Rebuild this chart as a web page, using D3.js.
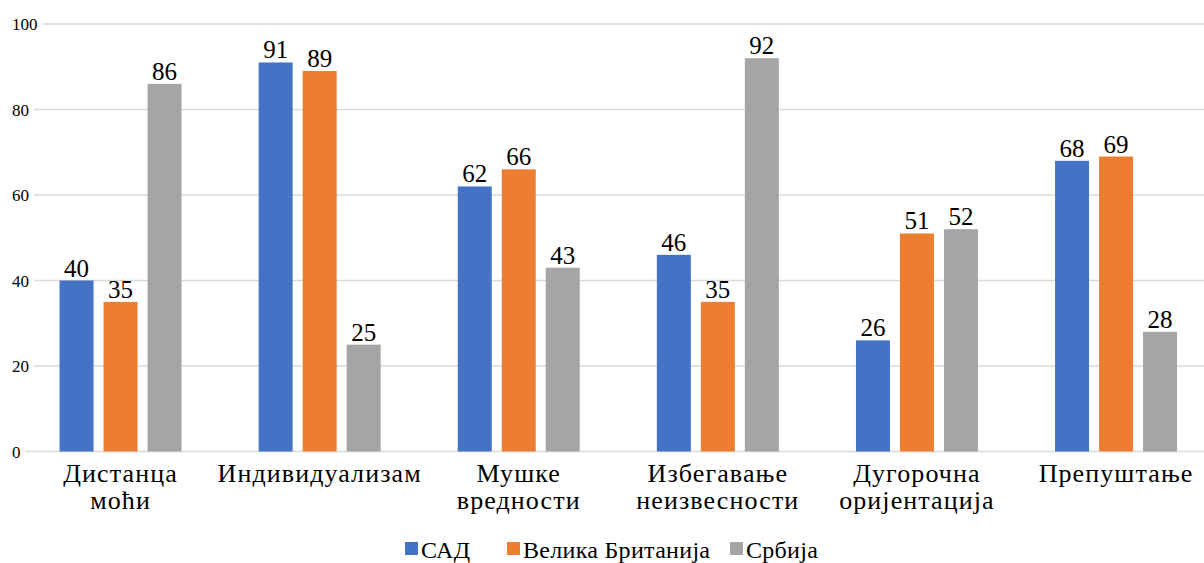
<!DOCTYPE html>
<html><head><meta charset="utf-8">
<script src="https://cdn.jsdelivr.net/npm/d3@7"></script>
<style>html,body{margin:0;padding:0;background:#fff;}svg{display:block;}
svg text{font-family:"Liberation Serif","Times New Roman",Tinos,"DejaVu Serif","Noto Serif",serif;}</style>
</head><body>
<svg id="c" width="1204" height="563"></svg>
<script>
const categories = [["Дистанца","моћи"],["Индивидуализам"],["Мушке","вредности"],["Избегавање","неизвесности"],["Дугорочна","оријентација"],["Препуштање"]];
const seriesNames = ["САД","Велика Британија","Србија"];
const sad = [40,91,62,46,26,68];
const britain = [35,89,66,35,51,69];
const serbia = [86,25,43,92,52,28];
const colors = ["#4472C4","#ED7D31","#A5A5A5"];
const yTicks = [0,20,40,60,80,100];

const series = [sad, britain, serbia];
const svg = d3.select("#c");

const x = d3.scaleBand().domain(d3.range(categories.length)).range([21, 1215.6]).paddingInner(0).paddingOuter(0);
const y = d3.scaleLinear().domain([0,100]).range([451.5, 24]);
const barW = 34, gap = 10;
const inner = d3.scaleBand().domain(d3.range(3)).range([0, 3*barW+2*gap]).paddingInner(gap/(barW+gap)).paddingOuter(0);
const groupOff = (x.bandwidth() - (3*barW+2*gap))/2;

// y tick labels and gridlines
const tg = svg.append("g");
yTicks.forEach(t => {
  const txt = tg.append("text").attr("x", 12).attr("y", y(t)+6)
    .attr("font-size", 17).attr("fill", "#000").text(t);
  const w = txt.node().getComputedTextLength();
  tg.append("line").attr("x1", 12 + w + 5).attr("x2", 1215.6)
    .attr("y1", y(t)).attr("y2", y(t))
    .attr("stroke", "#D9D9D9").attr("stroke-width", 1.3);
});

// bars
series.forEach((vals, si) => {
  const g = svg.append("g");
  g.selectAll("rect").data(vals).enter().append("rect")
    .attr("x", (d,i) => x(i) + groupOff + inner(si))
    .attr("width", inner.bandwidth())
    .attr("y", d => y(d))
    .attr("height", d => y(0) - y(d))
    .attr("fill", colors[si]);
  g.selectAll("text").data(vals).enter().append("text")
    .attr("x", (d,i) => x(i) + groupOff + inner(si) + inner.bandwidth()/2)
    .attr("y", d => y(d) - 4)
    .attr("text-anchor", "middle")
    .attr("font-size", 25).attr("fill", "#000")
    .text(d => d);
});

// category labels
const cg = svg.append("g");
categories.forEach((lines, i) => {
  const t = cg.append("text").attr("text-anchor", "middle")
    .attr("font-size", 26).attr("letter-spacing", 1.1).attr("fill", "#000");
  lines.forEach((ln, j) => {
    t.append("tspan").attr("x", x(i) + x.bandwidth()/2).attr("y", 482 + j*27).text(ln);
  });
});

// legend
const legendX = [405, 507, 730];
const lg = svg.append("g");
seriesNames.forEach((n, i) => {
  lg.append("rect").attr("x", legendX[i]).attr("y", 542).attr("width", 13).attr("height", 13).attr("fill", colors[i]);
  lg.append("text").attr("x", legendX[i] + 16).attr("y", 558)
    .attr("font-size", 24).attr("letter-spacing", 0.3).attr("fill", "#000").text(n);
});
</script>
</body></html>
